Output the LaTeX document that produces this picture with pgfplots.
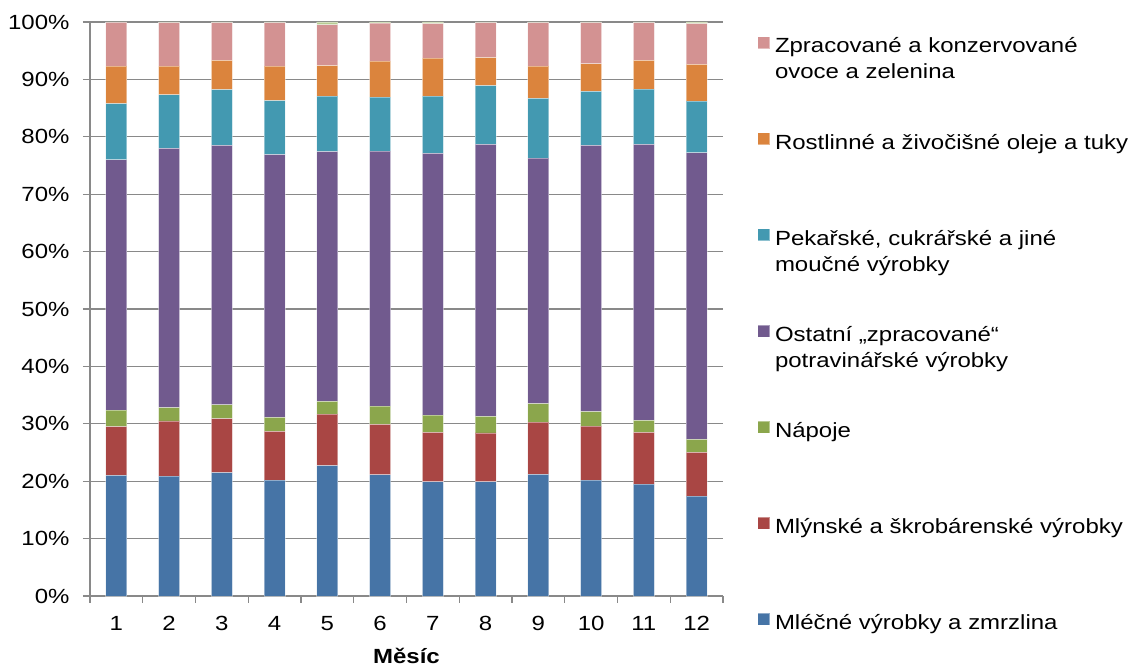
\documentclass[border=0pt]{standalone}
\usepackage{pgfplots}
\usepackage{pgfplotstable}
\pgfplotsset{compat=1.18}
\usepackage{fontspec}
\setmainfont{Liberation Sans}[FakeStretch=1.17]

\definecolor{gridgray}{HTML}{898989}
\definecolor{cmle}{HTML}{4674A6}
\definecolor{cmly}{HTML}{A94644}
\definecolor{cnap}{HTML}{8BA64C}
\definecolor{cost}{HTML}{715A8E}
\definecolor{cpek}{HTML}{4399B1}
\definecolor{crost}{HTML}{DB843D}
\definecolor{czpr}{HTML}{D39292}
\definecolor{czb}{HTML}{B7CC92}

% shares in %, months 1-12, stacked bottom to top
\pgfplotstableread{
m  mle  mly  nap  ost  pek  rost zpr  zb
1  21.0 8.5  2.9  43.6 9.8  6.5  7.65 0.05
2  20.9 9.6  2.3  45.2 9.3  5.0  7.6  0.1
3  21.5 9.4  2.4  45.2 9.7  5.1  6.6  0.1
4  20.2 8.5  2.4  45.8 9.4  6.0  7.6  0.1
5  22.7 9.0  2.2  43.5 9.7  5.3  7.1  0.5
6  21.1 8.8  3.2  44.4 9.4  6.3  6.6  0.2
7  19.9 8.6  3.0  45.6 10.0 6.6  6.0  0.3
8  19.9 8.5  2.9  47.4 10.2 4.9  6.1  0.1
9  21.2 9.1  3.2  42.8 10.4 5.6  7.6  0.1
10 20.2 9.4  2.5  46.4 9.4  4.8  7.2  0.1
11 19.5 9.0  2.1  48.1 9.6  5.0  6.6  0.1
12 17.4 7.6  2.3  49.9 9.0  6.4  7.1  0.3
}\data

\newcommand{\lent}[1]{\rule{0pt}{16bp}\parbox[t]{360bp}{#1}}

\begin{document}
\begin{tikzpicture}
\useasboundingbox (-90bp,-72bp) rectangle (1039bp,596bp);
\begin{axis}[
  width=633bp, height=574bp, scale only axis,
  font=\fontsize{20.5bp}{26bp}\selectfont,
  xmin=0.5, xmax=12.5, ymin=0, ymax=100,
  ybar stacked, bar width=21bp,
  axis x line*=bottom, axis y line*=left,
  axis line style={draw=gridgray, line width=1.2bp, -},
  ymajorgrids, grid style={gridgray, line width=1.2bp},
  tick align=outside, major tick length=7bp,
  tick style={gridgray, line width=1.2bp},
  xtick={0.5,1.5,...,12.5}, xticklabels={},
  extra x ticks={1,...,12},
  extra x tick style={major tick length=0pt, grid=none},
  xticklabel style={anchor=base, yshift=-34bp},
  ytick={0,10,...,100},
  yticklabel={\pgfmathprintnumber{\tick}\%},
  yticklabel style={xshift=-10bp},
  /pgf/number format/assume math mode=true,
  xlabel={\bfseries Měsíc},
  xlabel style={at={(axis description cs:0.5,0)}, anchor=base, yshift=-67bp},
  every axis plot/.append style={draw=white, draw opacity=0.4, line width=0.8bp},
  reverse legend,
  legend style={draw=none, at={(1,1)}, anchor=north west, xshift=34bp, yshift=-14bp,
    inner sep=0pt, row sep=78bp, nodes={inner sep=0pt},
    /tikz/every odd column/.style={column sep=5bp}},
  legend cell align=left,
  legend image code/.code={\fill[#1] (0bp,-3bp) rectangle (12bp,9bp);},
]
\addplot[fill=cmle] table[x=m,y=mle] {\data};
\addlegendentry{\lent{Mléčné výrobky a zmrzlina}}
\addplot[fill=cmly] table[x=m,y=mly] {\data};
\addlegendentry{\lent{Mlýnské a škrobárenské výrobky}}
\addplot[fill=cnap] table[x=m,y=nap] {\data};
\addlegendentry{\lent{Nápoje}}
\addplot[fill=cost] table[x=m,y=ost] {\data};
\addlegendentry{\lent{Ostatní „zpracované“\\potravinářské výrobky}}
\addplot[fill=cpek] table[x=m,y=pek] {\data};
\addlegendentry{\lent{Pekařské, cukrářské a jiné\\moučné výrobky}}
\addplot[fill=crost] table[x=m,y=rost] {\data};
\addlegendentry{\lent{Rostlinné a živočišné oleje a tuky}}
\addplot[fill=czpr] table[x=m,y=zpr] {\data};
\addlegendentry{\lent{Zpracované a konzervované\\ovoce a zelenina}}
\addplot[fill=czb, forget plot] table[x=m,y=zb] {\data};
\end{axis}
\end{tikzpicture}
\end{document}
